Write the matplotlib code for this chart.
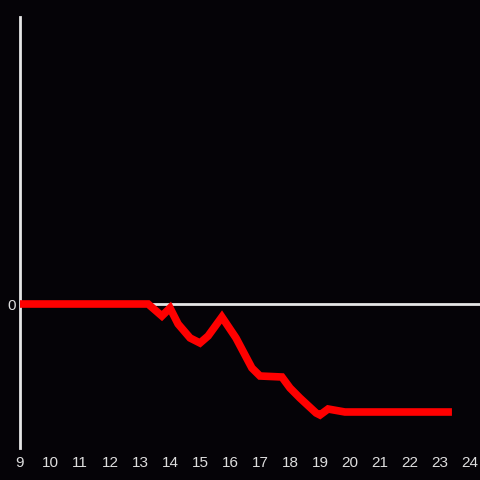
import matplotlib
matplotlib.use("Agg")
import matplotlib.pyplot as plt

# values
x = [9.0, 13.27, 13.73, 14.0, 14.27, 14.67, 15.0, 15.27, 15.73, 16.2, 16.73, 17.0,
     17.73, 18.0, 18.33, 18.87, 19.0, 19.27, 19.83, 23.27]
y = [0.0, 0.0, -1.2, -0.4, -2.0, -3.4, -3.9, -3.2, -1.3, -3.4, -6.4, -7.2,
     -7.3, -8.4, -9.4, -10.9, -11.1, -10.5, -10.8, -10.8]
xticks = list(range(9, 25))

bg = "#050307"
fig = plt.figure(figsize=(4.8, 4.8), dpi=100, facecolor=bg)
ax = fig.add_axes([20 / 480, 1 - 448 / 480, 460 / 480, 431 / 480], facecolor=bg)

ax.axhline(0, color="#e6e6e6", lw=2, zorder=1)
ax.plot(x, y, color="#ff0000", lw=5.5, solid_joinstyle="miter", zorder=3)

ax.set_xlim(9, 24.333)
ax.set_ylim(-14.4, 28.7)
ax.set_xticks(xticks)
ax.set_yticks([0])
ax.tick_params(length=0, colors="#dddddd", labelsize=11, pad=6)
for lab in ax.get_xticklabels() + ax.get_yticklabels():
    lab.set_family("Liberation Sans")
ax.tick_params(axis="y", pad=3)

for s in ["top", "right", "bottom"]:
    ax.spines[s].set_visible(False)
ax.spines["left"].set_color("#e6e6e6")
ax.spines["left"].set_linewidth(2)

fig.savefig("out.png", dpi=100, facecolor=bg)
